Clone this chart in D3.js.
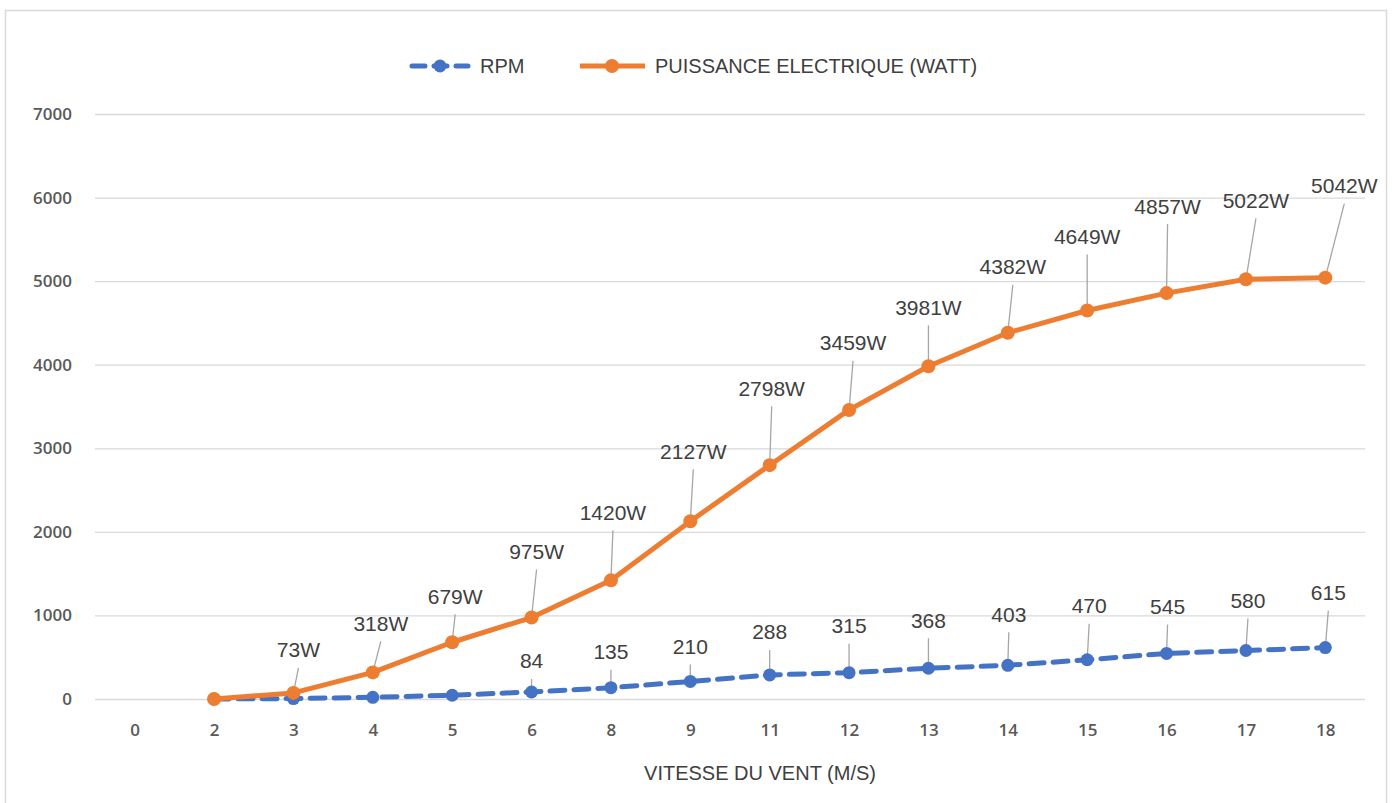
<!DOCTYPE html>
<html>
<head>
<meta charset="utf-8">
<script src="https://cdn.jsdelivr.net/npm/d3@7"></script>
<style>
  html, body { margin: 0; padding: 0; background: #ffffff; }
  svg { display: block; }
</style>
</head>
<body>
<svg id="chart" width="1400" height="803"></svg>
<script>
// ---- data ----
const categories = ["0","2","3","4","5","6","8","9","11","12","13","14","15","16","17","18"];
const rpmValues   = [null, 0, 5, 20, 45, 84, 135, 210, 288, 315, 368, 403, 470, 545, 580, 615];
const powerValues = [null, 0, 73, 318, 679, 975, 1420, 2127, 2798, 3459, 3981, 4382, 4649, 4857, 5022, 5042];
const rpmLabels   = [null, null, null, null, null, "84","135","210","288","315","368","403","470","545","580","615"];
const powerLabels = [null, null, "73W","318W","679W","975W","1420W","2127W","2798W","3459W","3981W","4382W","4649W","4857W","5022W","5042W"];
const yTickValues = [0, 1000, 2000, 3000, 4000, 5000, 6000, 7000];
const seriesNames = ["RPM", "PUISSANCE ELECTRIQUE (WATT)"];
const xTitle = "VITESSE DU VENT (M/S)";

// ---- callout layout (pixel offsets of label centre from its point) ----
const powerLabelOffsets = [null, null, [5,-43],[8,-49],[3,-46],[5,-66],[2,-68],[3,-70],[2,-77],[4,-67],[0,-59],[5,-66],[0,-74],[1,-87],[10,-79],[19,-92]];
const rpmLabelOffsets   = [null, null, null, null, null, [0,-31],[0,-36],[0,-35],[0,-43],[0,-47],[0,-48],[1,-51],[2,-54],[1,-47],[2,-50],[3,-55]];

const svg = d3.select("#chart");
const blue = "#4472C4", orange = "#ED7D31";
const labelFont = "'Liberation Sans', Arial, sans-serif";
const tickFont = "'Open Sans', 'Liberation Sans', sans-serif";

// frame
svg.append("rect").attr("x", 5.5).attr("y", 10.5).attr("width", 1381).attr("height", 800)
  .attr("fill", "#fff").attr("stroke", "#d9d9d9").attr("stroke-width", 1.5);

const x = d3.scalePoint().domain(categories).range([95, 1365]).padding(0.5);
const y = d3.scaleLinear().domain([0, 7000]).range([699, 114]);

// gridlines + y axis
const yAxis = d3.axisLeft(y).tickValues(yTickValues).tickFormat(d3.format("d"))
  .tickSize(-(1365 - 95)).tickPadding(23);
const gy = svg.append("g").attr("transform", "translate(95,0)").call(yAxis);
gy.select(".domain").remove();
gy.selectAll(".tick line").attr("stroke", "#d9d9d9").attr("stroke-width", 1.3);
gy.selectAll(".tick text").attr("fill", "#595959").style("font-family", tickFont)
  .style("font-size", "17px").style("font-weight", "600");

// x axis labels
const xAxis = d3.axisBottom(x).tickSize(0).tickPadding(25);
const gx = svg.append("g").attr("transform", "translate(0,699)").call(xAxis);
gx.select(".domain").remove();
gx.selectAll(".tick text").attr("fill", "#595959").style("font-family", tickFont)
  .style("font-size", "17px").style("font-weight", "600");

// axis title
svg.append("text").attr("x", 760).attr("y", 773).attr("text-anchor", "middle")
  .attr("dominant-baseline", "central")
  .style("font-family", labelFont).style("font-size", "20px").attr("fill", "#404040").text(xTitle);

const idx = d3.range(categories.length);

// leader lines
function leaders(values, labels, offsets) {
  svg.append("g").selectAll("line").data(idx.filter(i => labels[i] != null)).join("line")
    .attr("x1", i => x(categories[i]) + offsets[i][0])
    .attr("y1", i => y(values[i]) + offsets[i][1] + 18)
    .attr("x2", i => x(categories[i]))
    .attr("y2", i => y(values[i]))
    .attr("stroke", "#a6a6a6").attr("stroke-width", 1.3);
}
leaders(powerValues, powerLabels, powerLabelOffsets);
leaders(rpmValues, rpmLabels, rpmLabelOffsets);

const line = vals => d3.line().defined(i => vals[i] != null)
  .x(i => x(categories[i])).y(i => y(vals[i]))(idx);

// RPM series (dashed)
svg.append("path").attr("d", line(rpmValues)).attr("fill", "none").attr("stroke", blue)
  .attr("stroke-width", 5).attr("stroke-dasharray", "15,9").attr("stroke-linecap", "round");
svg.append("g").selectAll("circle").data(idx.filter(i => rpmValues[i] != null)).join("circle")
  .attr("cx", i => x(categories[i])).attr("cy", i => y(rpmValues[i])).attr("r", 6.5).attr("fill", blue);

// Power series
svg.append("path").attr("d", line(powerValues)).attr("fill", "none").attr("stroke", orange)
  .attr("stroke-width", 5).attr("stroke-linejoin", "round");
svg.append("g").selectAll("circle").data(idx.filter(i => powerValues[i] != null)).join("circle")
  .attr("cx", i => x(categories[i])).attr("cy", i => y(powerValues[i])).attr("r", 7).attr("fill", orange);

// data labels
function labelsFor(values, labels, offsets) {
  svg.append("g").selectAll("text").data(idx.filter(i => labels[i] != null)).join("text")
    .attr("x", i => x(categories[i]) + offsets[i][0])
    .attr("y", i => y(values[i]) + offsets[i][1])
    .attr("text-anchor", "middle").attr("dominant-baseline", "central")
    .style("font-family", labelFont).style("font-size", "21px").attr("fill", "#404040")
    .text(i => labels[i]);
}
labelsFor(powerValues, powerLabels, powerLabelOffsets);
labelsFor(rpmValues, rpmLabels, rpmLabelOffsets);

// legend
const lg = svg.append("g").attr("transform", "translate(0,66)");
lg.append("line").attr("x1", 412).attr("x2", 468).attr("y1", 0).attr("y2", 0)
  .attr("stroke", blue).attr("stroke-width", 5).attr("stroke-dasharray", "13,9").attr("stroke-linecap", "round");
lg.append("circle").attr("cx", 440).attr("cy", 0).attr("r", 6.5).attr("fill", blue);
lg.append("text").attr("x", 480).attr("y", 0).attr("dominant-baseline", "central")
  .style("font-family", labelFont).style("font-size", "20px").attr("fill", "#404040").text(seriesNames[0]);
lg.append("line").attr("x1", 580).attr("x2", 645).attr("y1", 0).attr("y2", 0)
  .attr("stroke", orange).attr("stroke-width", 5);
lg.append("circle").attr("cx", 612).attr("cy", 0).attr("r", 7).attr("fill", orange);
lg.append("text").attr("x", 655).attr("y", 0).attr("dominant-baseline", "central")
  .style("font-family", labelFont).style("font-size", "20px").attr("fill", "#404040").text(seriesNames[1]);
</script>
</body>
</html>
